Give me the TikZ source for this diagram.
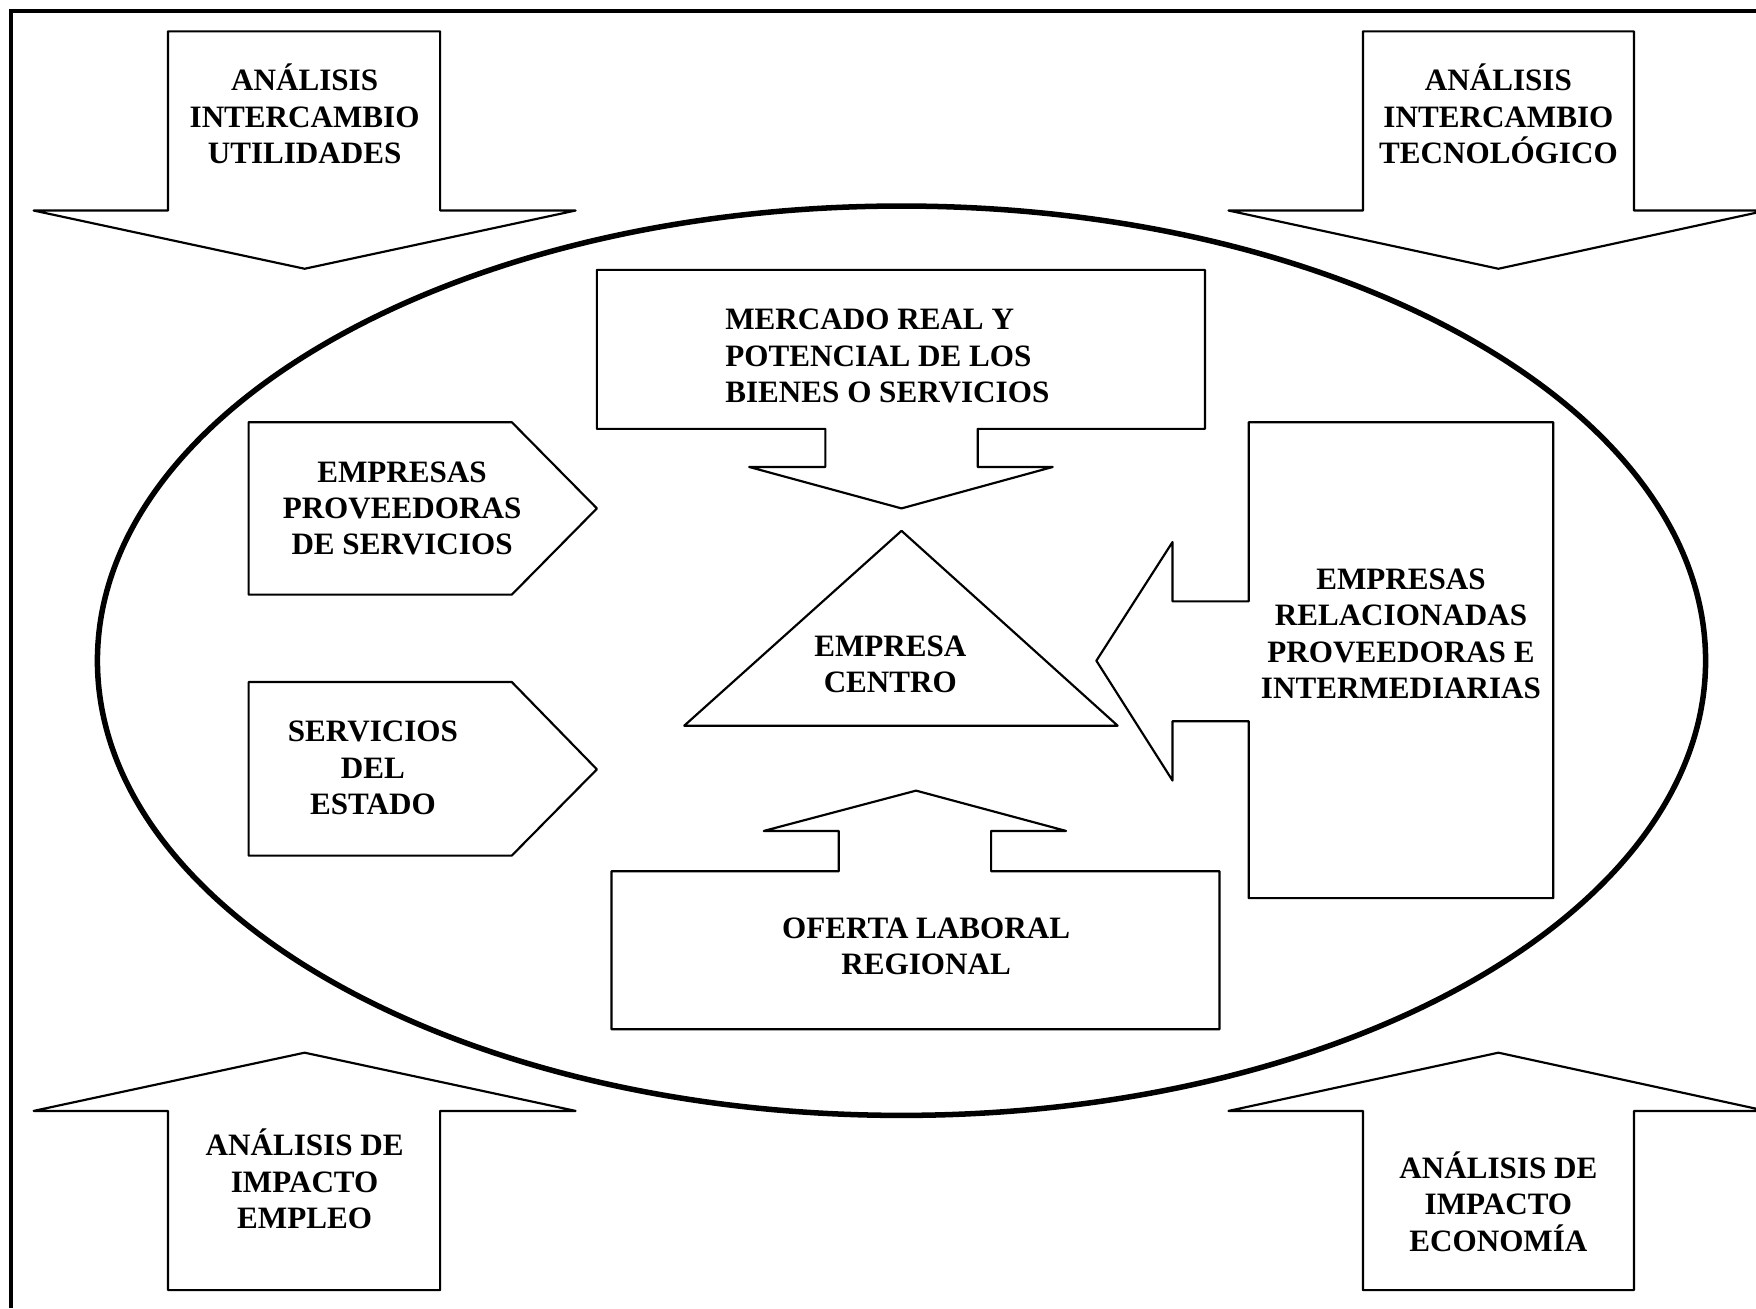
\documentclass[tikz,border=0pt]{standalone}
\usepackage{fontspec}
\setmainfont{Liberation Serif}
\begin{document}
\begin{tikzpicture}[x=0.01cm,y=-0.01cm,
  shape line/.style={draw=black,line width=0.55pt,line join=round,fill=white},
  lbl/.style={inner sep=0pt,align=center,font=\fontsize{7.9}{9.25}\selectfont\bfseries},
  lblL/.style={inner sep=0pt,align=left,anchor=west,font=\fontsize{7.9}{9.25}\selectfont\bfseries}]
\useasboundingbox (0,0) rectangle (1568,1168);
% frame
\draw[line width=1pt] (10,1168) -- (10,10) -- (1568,10);
% outer arrows
\draw[shape line] (150,28) -- (393,28) -- (393,188) -- (514,188) -- (272,240) -- (30,188) -- (150,188) -- cycle;
\draw[shape line] (1217,28) -- (1459,28) -- (1459,188) -- (1568,188) -- (1568,190) -- (1338,240) -- (1097,188) -- (1217,188) -- cycle;
\draw[shape line] (150,1152) -- (393,1152) -- (393,992) -- (514,992) -- (272,940) -- (30,992) -- (150,992) -- cycle;
\draw[shape line] (1217,1152) -- (1459,1152) -- (1459,992) -- (1568,992) -- (1568,990) -- (1338,940) -- (1097,992) -- (1217,992) -- cycle;
\node[lbl] (tl) at (272,102) {ANÁLISIS\\INTERCAMBIO\\UTILIDADES};
\node[lbl] (tr) at (1338,102) {ANÁLISIS\\INTERCAMBIO\\TECNOLÓGICO};
\node[lbl] (bl) at (272,1053) {ANÁLISIS DE\\IMPACTO\\EMPLEO};
\node[lbl] (br) at (1338,1073) {ANÁLISIS DE\\IMPACTO\\ECONOMÍA};
% ellipse
\draw[line width=1.4pt] (805,590) ellipse [x radius=718, y radius=406];
% mercado
\draw[shape line] (533,241) -- (1076,241) -- (1076,383) -- (873,383) -- (873,417) -- (940,417) -- (805,454) -- (669,417) -- (737,417) -- (737,383) -- (533,383) -- cycle;
\node[lblL] (mer) at (647,318) {MERCADO REAL Y\\POTENCIAL DE LOS\\BIENES O SERVICIOS};
% triangle
\draw[shape line] (805,474) -- (998,648) -- (611,648) -- cycle;
\node[lbl] (emp) at (795,593) {EMPRESA\\CENTRO};
% left pentagons
\draw[shape line] (222,377) -- (457,377) -- (533,454) -- (457,531) -- (222,531) -- cycle;
\node[lbl] (prov) at (359,454) {EMPRESAS\\PROVEEDORAS\\DE SERVICIOS};
\draw[shape line] (222,609) -- (457,609) -- (533,687) -- (457,764) -- (222,764) -- cycle;
\node[lbl] (est) at (333,686) {SERVICIOS\\DEL\\ESTADO};
% oferta
\draw[shape line] (546,778) -- (749,778) -- (749,742) -- (682,742) -- (818,706) -- (952,742) -- (885,742) -- (885,778) -- (1089,778) -- (1089,919) -- (546,919) -- cycle;
\node[lbl] (ofe) at (827,845) {OFERTA LABORAL\\REGIONAL};
% empresas relacionadas
\draw[shape line] (1115,377) -- (1387,377) -- (1387,802) -- (1115,802) -- (1115,644) -- (1047,644) -- (1047,697) -- (979,590) -- (1047,484) -- (1047,537) -- (1115,537) -- cycle;
\node[lbl] (rel) at (1251,566) {EMPRESAS\\RELACIONADAS\\PROVEEDORAS E\\INTERMEDIARIAS};
\end{tikzpicture}
\end{document}
